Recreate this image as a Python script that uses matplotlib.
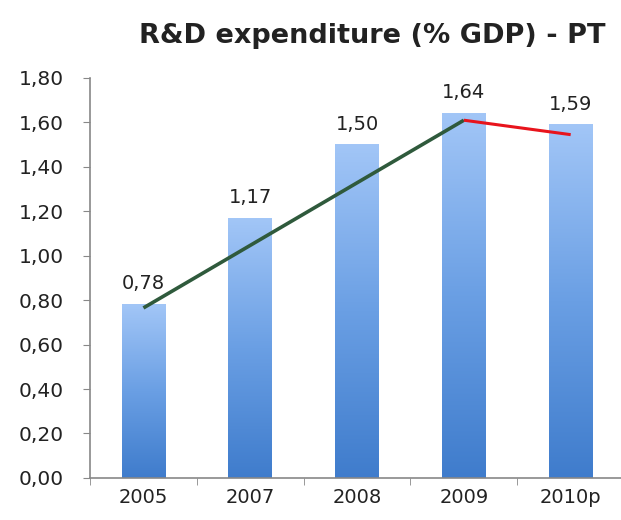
import matplotlib
matplotlib.use("Agg")
import matplotlib.pyplot as plt
import numpy as np
from matplotlib.colors import LinearSegmentedColormap

years = ["2005", "2007", "2008", "2009", "2010p"]
values = [0.78, 1.17, 1.50, 1.64, 1.59]
labels = ["0,78", "1,17", "1,50", "1,64", "1,59"]

# trend lines (green: 2005 -> 2009, red: 2009 -> 2010p)
trend_green_x = [0, 3]
trend_green_y = [0.765, 1.61]
trend_red_x = [3, 4]
trend_red_y = [1.61, 1.545]

yticks = [0.0, 0.2, 0.4, 0.6, 0.8, 1.0, 1.2, 1.4, 1.6, 1.8]

plt.rcParams["font.family"] = ["DejaVu Sans"]

fig = plt.figure(figsize=(6.21, 5.2), dpi=100)
ax = fig.add_axes([0.145, 0.081, 0.86, 0.769])

cmap = LinearSegmentedColormap.from_list("bar", ["#3f7ccc", "#6a9fe4", "#a2c6f7"])
grad = np.linspace(0, 1, 256).reshape(-1, 1)
width = 0.41
for i, v in enumerate(values):
    ax.imshow(grad, cmap=cmap, origin="lower", aspect="auto",
              extent=[i - width / 2, i + width / 2, 0, v], zorder=2)
    ax.text(i, v + 0.05, labels[i], ha="center", va="bottom", fontsize=14, color="#222222")

ax.plot(trend_green_x, trend_green_y, color="#2f5a3c", lw=2.6, zorder=3, solid_capstyle="butt")
ax.plot(trend_red_x, trend_red_y, color="#e8141c", lw=2.2, zorder=3, solid_capstyle="butt")

ax.set_xlim(-0.5, 4.5)
ax.set_ylim(0, 1.8)
ax.set_xticks(range(len(years)))
ax.set_xticklabels(years, fontsize=14, color="#222222")
ax.set_xticks([i - 0.5 for i in range(len(years) + 1)], minor=True)
ax.tick_params(axis="x", which="major", length=0, pad=7)
ax.tick_params(axis="x", which="minor", length=5, color="#888888")
ax.set_yticks(yticks)
ax.set_yticklabels([f"{t:.2f}".replace(".", ",") for t in yticks], fontsize=14.5, color="#222222")
ax.tick_params(axis="y", length=5, color="#888888", pad=14)

for s in ["top", "right"]:
    ax.spines[s].set_visible(False)
for s in ["left", "bottom"]:
    ax.spines[s].set_color("#888888")
    ax.spines[s].set_linewidth(1.2)

fig.text(0.6, 0.93, "R&D expenditure (% GDP) - PT", ha="center", va="center",
         fontsize=19.5, fontweight="bold", color="#222222")

fig.savefig("out.png", dpi=100)
